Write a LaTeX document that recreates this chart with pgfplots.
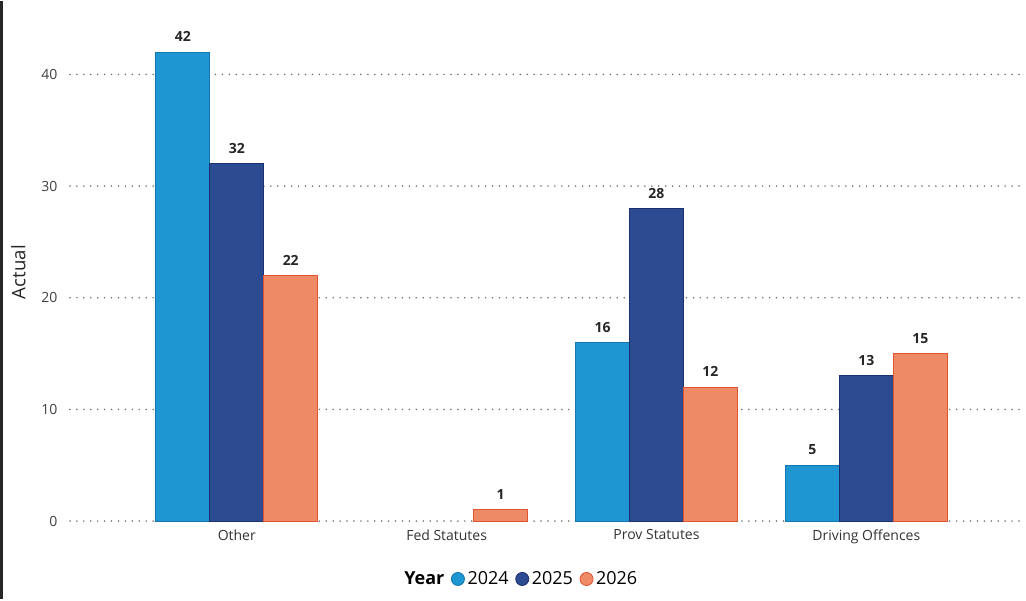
\documentclass[border=0pt]{standalone}
\usepackage{pgfplots}
\pgfplotsset{compat=1.18}
\usepackage{fontspec}
\setmainfont{Open Sans}
\definecolor{cA}{HTML}{1E96D2}
\definecolor{cAd}{HTML}{1577B0}
\definecolor{cB}{HTML}{2D4B90}
\definecolor{cBd}{HTML}{1C2F6E}
\definecolor{cC}{HTML}{EE8A66}
\definecolor{cCd}{HTML}{E0542F}
\definecolor{gridc}{HTML}{6E6E6E}
\begin{document}
\begin{tikzpicture}
\begin{axis}[
  scale only axis, width=717pt, height=390pt,
  xmin=-0.795, xmax=3.757, ymin=0, ymax=46.53,
  clip=false,
  axis line style={draw=none},
  tick style={draw=none},
  ybar=0pt, bar width=40.5pt,
  xtick={0,1,2,3},
  xticklabels={Other,Fed Statutes,Prov Statutes,Driving Offences},
  ytick={0,10,20,30,40},
  major tick length=0pt,
  /pgf/number format/assume math mode=true,
  yticklabel style={font=\fontsize{10.5}{12}\selectfont, text=black!75, xshift=-6pt},
  xticklabel style={font=\fontsize{10.5}{12}\selectfont, text=black!80, yshift=-3pt},
  ylabel={Actual},
  ylabel style={font=\fontsize{14}{16}\selectfont, text=black!85, at={(axis description cs:-0.054,0.479)}, anchor=center, rotate=0},
  nodes near coords,
  every node near coord/.append style={font=\fontsize{10.5}{12}\selectfont\bfseries, text=black!85, yshift=4pt},
  legend style={at={(axis description cs:0.472,-0.1115)}, anchor=center, draw=none, fill=none,
    legend columns=-1, font=\fontsize{13.5}{15}\selectfont,
    /tikz/every even column/.append style={column sep=3pt}},
]
% grid lines
\foreach \yy in {0,10,20,30,40} {
  \edef\tmp{\noexpand\draw[gridc, line width=1.3pt, line cap=round, dash pattern=on 0pt off 5.2pt] (axis cs:-0.795,\yy) -- (axis cs:3.757,\yy);}
  \tmp
}
\addlegendimage{empty legend}\addlegendentry{\textbf{Year}\hspace{6pt}}
\addlegendimage{legend image code/.code={\draw[fill=cA,draw=cAd,line width=0.6pt] (0.3em,0pt) circle (4.9pt);}}\addlegendentry{2024}
\addlegendimage{legend image code/.code={\draw[fill=cB,draw=cBd,line width=0.6pt] (0.3em,0pt) circle (4.9pt);}}\addlegendentry{2025}
\addlegendimage{legend image code/.code={\draw[fill=cC,draw=cCd,line width=0.6pt] (0.3em,0pt) circle (4.9pt);}}\addlegendentry{2026}
\addplot[forget plot, bar shift=-40.5pt, fill=cA, draw=cAd, line width=0.7pt] coordinates {(0,42) (2,16) (3,5)};
\addplot[forget plot, bar shift=0pt, fill=cB, draw=cBd, line width=0.7pt] coordinates {(0,32) (2,28) (3,13)};
\addplot[forget plot, bar shift=40.5pt, fill=cC, draw=cCd, line width=0.7pt] coordinates {(0,22) (1,1) (2,12) (3,15)};
\end{axis}
\draw[black!85, line width=2.25pt] (-51.4pt,-58.5pt) -- (-51.4pt,390pt);
\useasboundingbox (-52.5pt,-58.5pt) rectangle (717pt,390pt);
\end{tikzpicture}
\end{document}
